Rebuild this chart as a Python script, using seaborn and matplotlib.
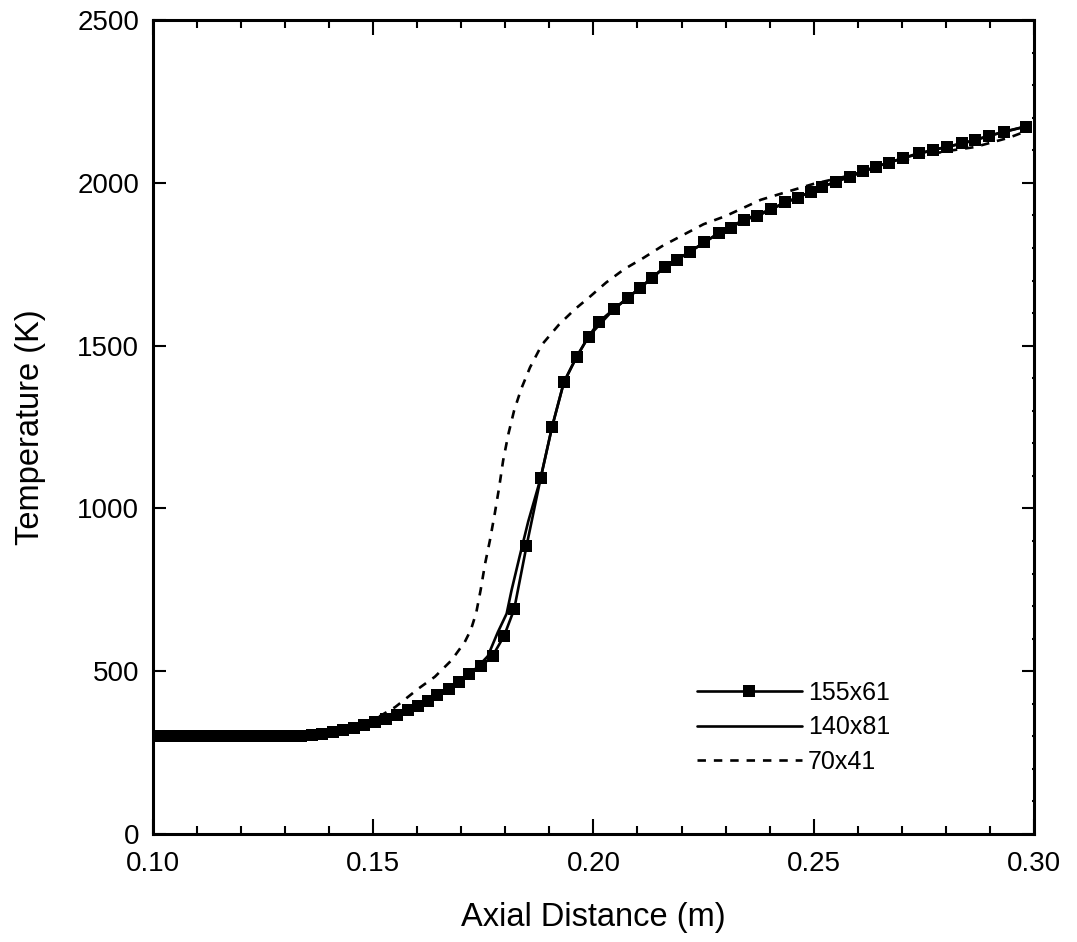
"""
Axial temperature profile - grid sensitivity
"""

# Libraries
import numpy as np
import pandas as pd
import seaborn as sns
import matplotlib as mpl
import matplotlib.pyplot as plt
from matplotlib.lines import Line2D
from matplotlib.ticker import MultipleLocator

# -------------------------
# Data
# -------------------------
# Grid 155x61 (square markers at the grid nodes)
x_155 = [0.1000, 0.1024, 0.1048, 0.1072, 0.1096, 0.1120, 0.1144, 0.1168,
         0.1192, 0.1216, 0.1240, 0.1264, 0.1288, 0.1312, 0.1336, 0.1360,
         0.1384, 0.1408, 0.1432, 0.1456, 0.1480, 0.1504, 0.1528, 0.1554,
         0.1578, 0.1601, 0.1624, 0.1646, 0.1673, 0.1695, 0.1718, 0.1745,
         0.1771, 0.1797, 0.1820, 0.1848, 0.1880, 0.1906, 0.1933, 0.1962,
         0.1989, 0.2013, 0.2047, 0.2078, 0.2105, 0.2134, 0.2163, 0.2189,
         0.2220, 0.2251, 0.2285, 0.2312, 0.2342, 0.2372, 0.2403, 0.2434,
         0.2464, 0.2494, 0.2520, 0.2551, 0.2582, 0.2612, 0.2642, 0.2672,
         0.2703, 0.2738, 0.2772, 0.2802, 0.2837, 0.2867, 0.2897, 0.2931,
         0.2981]
t_155 = [300, 300, 300, 300, 300, 300, 300, 300,
         300, 300, 300, 300, 300, 300, 302, 305,
         308, 313, 319, 326, 334, 343, 353, 366,
         381, 394, 409, 427, 445, 466, 491, 516,
         547, 608, 690, 884, 1092, 1250, 1388, 1466,
         1528, 1574, 1613, 1646, 1677, 1708, 1743, 1764,
         1789, 1817, 1846, 1861, 1887, 1897, 1919, 1940,
         1955, 1973, 1988, 2004, 2019, 2035, 2050, 2062,
         2076, 2091, 2101, 2111, 2121, 2131, 2144, 2157,
         2173]

# Grid 140x81 (solid line)
x_140 = [0.1000, 0.1100, 0.1200, 0.1300, 0.1360, 0.1408, 0.1456, 0.1504,
         0.1554, 0.1601, 0.1646, 0.1695, 0.1737, 0.1760, 0.1783, 0.1803,
         0.1814, 0.1832, 0.1852, 0.1880, 0.1906, 0.1933, 0.1962, 0.1989,
         0.2047, 0.2105, 0.2163, 0.2220, 0.2285, 0.2342, 0.2403, 0.2464,
         0.2520, 0.2582, 0.2642, 0.2703, 0.2772, 0.2837, 0.2897, 0.2981]
t_140 = [300, 300, 300, 300, 305, 313, 326, 343,
         366, 394, 427, 466, 513, 546, 620, 677,
         748, 850, 960, 1092, 1250, 1388, 1466, 1528,
         1613, 1677, 1743, 1789, 1846, 1887, 1919, 1955,
         1988, 2019, 2050, 2076, 2101, 2121, 2144, 2173]

# Grid 70x41 (dashed line)
x_70 = [0.1000, 0.1200, 0.1300, 0.1400, 0.1450, 0.1500, 0.1550, 0.1565,
        0.1603, 0.1640, 0.1678, 0.1708, 0.1722, 0.1734, 0.1744, 0.1754,
        0.1765, 0.1776, 0.1786, 0.1795, 0.1807, 0.1820, 0.1836, 0.1856,
        0.1883, 0.1922, 0.1958, 0.1990, 0.2029, 0.2070, 0.2113, 0.2155,
        0.2205, 0.2250, 0.2300, 0.2380, 0.2463, 0.2500, 0.2580, 0.2650,
        0.2700, 0.2750, 0.2800, 0.2866, 0.2944, 0.2981]
t_70 = [300, 300, 302, 315, 328, 350, 390, 406,
        447, 483, 534, 590, 628, 680, 750, 830,
        902, 984, 1065, 1147, 1229, 1301, 1367, 1433,
        1503, 1565, 1612, 1648, 1694, 1735, 1769, 1805,
        1841, 1873, 1898, 1948, 1982, 1997, 2022, 2050,
        2068, 2084, 2097, 2110, 2139, 2158]

labels = ['155x61', '140x81', '70x41']

# -------------------------
# Configuration
# -------------------------
sns.set_style("ticks")
plt.rcParams['font.family'] = ['Liberation Sans', 'DejaVu Sans']
mpl.rcParams['text.color'] = 'black'
mpl.rcParams['axes.labelcolor'] = 'black'
mpl.rcParams['axes.linewidth'] = 2.2
mpl.rcParams['xtick.direction'] = 'in'
mpl.rcParams['ytick.direction'] = 'in'

LW = 1.9
MS = 8.5
DASH = (3.2, 3.0)

# --------------------------------------------------------------------
#                               Main
# --------------------------------------------------------------------
f = plt.figure(figsize=(10.77, 9.42), dpi=100)
ax = f.add_axes([0.142, 0.1146, 0.818, 0.8641])

# Plot lines
sns.lineplot(x=x_70, y=t_70, ax=ax, color='black', lw=LW,
             sort=False, estimator=None)
ax.lines[-1].set_dashes(DASH)
sns.lineplot(x=x_140, y=t_140, ax=ax, color='black', lw=LW,
             sort=False, estimator=None)
sns.lineplot(x=x_155, y=t_155, ax=ax, color='black', lw=LW,
             marker='s', markersize=MS, markeredgewidth=0,
             sort=False, estimator=None)

# Configure axes
ax.set_xlim(0.10, 0.30)
ax.set_ylim(0, 2500)
ax.xaxis.set_major_locator(MultipleLocator(0.05))
ax.xaxis.set_minor_locator(MultipleLocator(0.01))
ax.yaxis.set_major_locator(MultipleLocator(500))
ax.yaxis.set_minor_locator(MultipleLocator(100))
ax.xaxis.set_major_formatter(mpl.ticker.FormatStrFormatter('%.2f'))

ax.tick_params(axis='both', which='both', top=True, right=True,
               colors='black', labelsize=20, width=1.5)
ax.tick_params(axis='x', which='major', length=11, pad=12)
ax.tick_params(axis='x', which='minor', length=6)
ax.tick_params(axis='y', which='major', length=9, pad=10)
ax.tick_params(axis='y', which='minor', length=1.5)

for s in ax.spines.values():
    s.set_color('black')

ax.set_xlabel('Axial Distance (m)', fontsize=23.5)
ax.set_ylabel('Temperature (K)', fontsize=23.5)
ax.xaxis.set_label_coords(0.5, -0.103)
ax.yaxis.set_label_coords(-0.139, 0.5)
ax.xaxis.label.set_va('center')
ax.yaxis.label.set_va('center')

# Legend
handles = [Line2D([], [], color='black', lw=LW, marker='s',
                  markersize=MS, markeredgewidth=0),
           Line2D([], [], color='black', lw=LW),
           Line2D([], [], color='black', lw=LW, dashes=DASH)]
ax.legend(handles, labels, loc='center left', bbox_to_anchor=(0.617, 0.131),
          frameon=False, fontsize=18, handlelength=4.2, handletextpad=0.25,
          labelspacing=0.42, borderpad=0, borderaxespad=0, numpoints=1)

plt.savefig('out.png', dpi=100)
